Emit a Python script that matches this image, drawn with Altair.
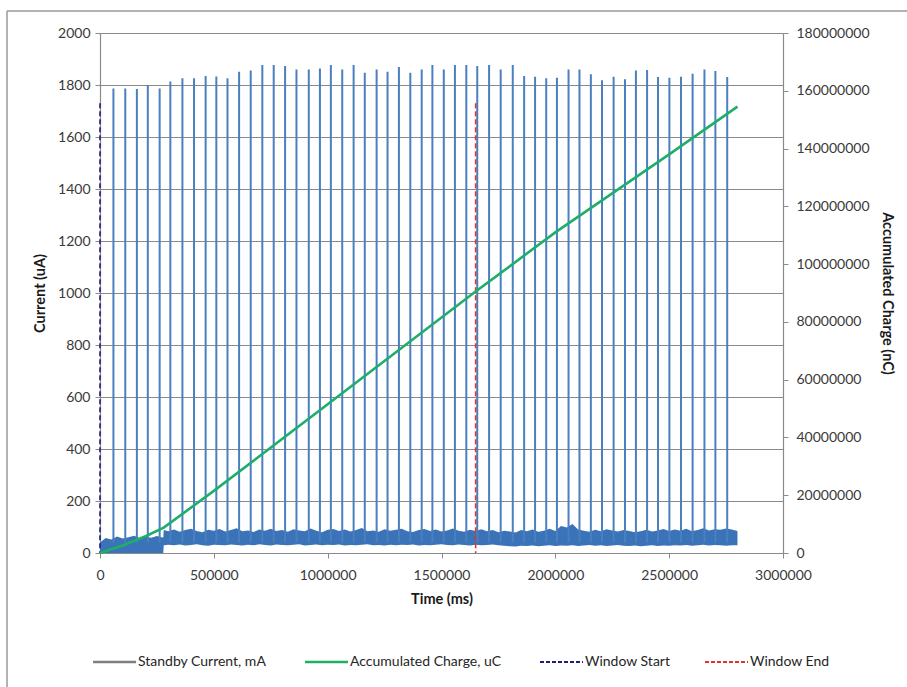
import altair as alt
import pandas as pd

# ---- current spikes: time (ms) and peak current (uA)
spike_t = [59000, 111000, 162000, 210000, 262000, 309000, 362000, 413000, 464000, 511000,
           560000, 611000, 662000, 713000, 763000, 813000, 863000, 917000, 966000, 1014000,
           1064000, 1114000, 1163000, 1215000, 1263000, 1313000, 1363000, 1413000, 1460000, 1510000,
           1559000, 1609000, 1657000, 1709000, 1760000, 1813000, 1863000, 1911000, 1960000, 2007000,
           2058000, 2106000, 2156000, 2205000, 2256000, 2306000, 2354000, 2403000, 2451000, 2501000,
           2552000, 2603000, 2655000, 2703000, 2755000]
spike_peak = [1787, 1787, 1785, 1800, 1787, 1813, 1826, 1826, 1835, 1833,
              1826, 1851, 1856, 1877, 1877, 1873, 1860, 1860, 1863, 1877,
              1860, 1877, 1847, 1860, 1851, 1869, 1847, 1860, 1877, 1860,
              1877, 1877, 1873, 1877, 1860, 1877, 1835, 1832, 1826, 1828,
              1860, 1860, 1841, 1818, 1832, 1822, 1856, 1858, 1831, 1828,
              1832, 1843, 1860, 1854, 1831]

# ---- standby current band between spikes: time (ms), low and high current (uA)
band_t = [0, 25000, 50000, 75000, 100000, 125000, 150000, 175000, 200000, 225000, 250000, 275000,
          278000, 280000,
          300000, 325000, 350000, 375000, 400000, 425000, 450000, 475000, 500000, 525000,
          550000, 575000, 600000, 625000, 650000, 675000, 700000, 725000, 750000, 775000,
          800000, 825000, 850000, 875000, 900000, 925000, 950000, 975000, 1000000, 1025000,
          1050000, 1075000, 1100000, 1125000, 1150000, 1175000, 1200000, 1225000, 1250000, 1275000,
          1300000, 1325000, 1350000, 1375000, 1400000, 1425000, 1450000, 1475000, 1500000, 1525000,
          1550000, 1575000, 1600000, 1625000, 1650000, 1675000, 1700000, 1725000, 1750000, 1775000,
          1800000, 1825000, 1850000, 1875000, 1900000, 1925000, 1950000, 1975000, 2000000, 2025000,
          2050000, 2075000, 2100000, 2125000, 2150000, 2175000, 2200000, 2225000, 2250000, 2275000,
          2300000, 2325000, 2350000, 2375000, 2400000, 2425000, 2450000, 2475000, 2500000, 2525000,
          2550000, 2575000, 2600000, 2625000, 2650000, 2675000, 2700000, 2725000, 2750000, 2775000,
          2800000]
band_hi = [40, 58, 52, 63, 56, 61, 66, 57, 63, 59, 65, 60,
           60, 88,
           84, 90, 82, 88, 93, 85, 80, 89, 86, 92,
           83, 88, 95, 84, 87, 81, 90, 86, 93, 85,
           88, 82, 91, 87, 84, 94, 86, 80, 89, 92,
           85, 90, 83, 88, 96, 84, 87, 82, 91, 86,
           89, 93, 84, 81, 88, 92, 85, 90, 83, 87,
           94, 86, 82, 89, 85, 91, 84, 88, 80, 86,
           83, 79, 88, 84, 90, 82, 86, 93, 85, 104,
           98, 112, 90, 86, 82, 89, 84, 91, 87, 83,
           88, 85, 80, 84, 89, 83, 87, 92, 85, 90,
           86, 93, 84, 88, 95, 87, 91, 89, 94, 90,
           85]
band_lo = [0, 0, 0, 0, 0, 0, 0, 0, 0, 0, 0, 0,
           0, 30,
           32, 30, 33, 29, 31, 34, 30, 28, 32, 31,
           30, 33, 31, 29, 32, 30, 34, 31, 29, 33,
           31, 30, 32, 34, 29, 31, 33, 30, 32, 31,
           33, 29, 31, 30, 32, 34, 30, 31, 29, 32,
           30, 32, 31, 33, 29, 31, 30, 32, 34, 31,
           30, 33, 31, 29, 32, 30, 31, 33, 30, 28,
           26, 25, 28, 27, 29, 26, 28, 30, 27, 29,
           28, 30, 27, 29, 31, 28, 30, 27, 29, 31,
           28, 27, 29, 26, 28, 30, 27, 29, 28, 30,
           29, 31, 28, 30, 32, 29, 31, 30, 28, 30,
           30]

# ---- accumulated charge (nC)
charge_t = [0, 100000, 200000, 280000, 500000, 1000000, 1650000, 2000000, 2500000, 2800000]
charge_nc = [0, 2600000, 5800000, 8800000, 21500000, 51500000, 90500000, 111000000, 138000000, 154500000]

# ---- measurement window markers: time (ms), top (uA)
window_name = ["Window Start", "Window End"]
window_t = [0, 1650000]
window_top = [1730, 1730]
window_color = ["#1f1f7a", "#e0332c"]

legend_labels = ["Standby Current, mA", "Accumulated Charge, uC", "Window Start", "Window End"]
legend_colors = ["#7f7f7f", "#1fae6a", "#1f1f7a", "#e0332c"]

BLUE = "#4a7fc0"
GRID = "#8a8a8a"
FONT = "Lato"

x_scale = alt.Scale(domain=[0, 3000000], nice=False, zero=False)
x_axis = alt.Axis(values=list(range(0, 3000001, 500000)), format="d", title="Time (ms)",
                  grid=False, labelFlush=False, labelOverlap=False, tickSize=5,
                  labelPadding=10, titlePadding=10)
y_scale = alt.Scale(domain=[0, 2000], nice=False)
y_axis = alt.Axis(values=list(range(0, 2001, 200)), format="d", title="Current (uA)",
                  grid=True, gridColor=GRID, tickSize=5, labelPadding=5, titlePadding=10)
y2_scale = alt.Scale(domain=[0, 180000000], nice=False)
y2_axis = alt.Axis(values=list(range(0, 180000001, 20000000)), format="d",
                   title="Accumulated Charge (nC)", orient="right", grid=False,
                   tickSize=5, labelPadding=8, titlePadding=10)

band_df = pd.DataFrame({"t": band_t, "lo": band_lo, "hi": band_hi})
spike_df = pd.DataFrame({"t": spike_t, "peak": spike_peak})
charge_df = pd.DataFrame({"t": charge_t, "q": charge_nc})
win_df = pd.DataFrame({"name": window_name, "t": window_t, "top": window_top})

band = alt.Chart(band_df).mark_area(color="#3b73b8", opacity=1).encode(
    x=alt.X("t:Q", scale=x_scale, axis=x_axis),
    y=alt.Y("lo:Q", scale=y_scale, axis=y_axis),
    y2="hi:Q",
)

spikes = alt.Chart(spike_df).mark_rule(color=BLUE, strokeWidth=2).encode(
    x=alt.X("t:Q", scale=x_scale, axis=x_axis),
    y=alt.Y("peak:Q", scale=y_scale, axis=y_axis),
    y2=alt.datum(40),
)

windows = alt.Chart(win_df).mark_rule(strokeWidth=1.6, strokeDash=[5, 3]).encode(
    x=alt.X("t:Q", scale=x_scale, axis=x_axis),
    y=alt.Y("top:Q", scale=y_scale, axis=y_axis),
    y2=alt.datum(0),
    color=alt.Color("name:N", scale=alt.Scale(domain=window_name, range=window_color), legend=None),
)

current = alt.layer(band, spikes, windows)

charge = alt.Chart(charge_df).mark_line(color="#1fae6a", strokeWidth=2.6).encode(
    x=alt.X("t:Q", scale=x_scale, axis=x_axis),
    y=alt.Y("q:Q", scale=y2_scale, axis=y2_axis),
)

main = alt.layer(current, charge).resolve_scale(y="independent")

# legend row below the plot (positions in pixels from the plot origin)
LEG_Y = 629
leg_line_x = [-7, 205, 440, 605]
leg_line_w = [43, 43, 43, 43]
leg_dash = [None, None, [4, 2], [4, 2]]
deco = []
for i, lab in enumerate(legend_labels):
    d = pd.DataFrame({"label": [lab]})
    kw = dict(color=legend_colors[i], strokeWidth=2.4 if leg_dash[i] is None else 2)
    if leg_dash[i] is not None:
        kw["strokeDash"] = leg_dash[i]
    deco.append(alt.Chart(d).mark_rule(**kw).encode(
        x=alt.value(leg_line_x[i]), x2=alt.value(leg_line_x[i] + leg_line_w[i]),
        y=alt.value(LEG_Y)))
    deco.append(alt.Chart(d).mark_text(align="left", baseline="middle", font=FONT,
                                       fontSize=14, color="#262626").encode(
        x=alt.value(leg_line_x[i] + leg_line_w[i] + 2), y=alt.value(LEG_Y), text="label:N"))

# chart-area frame (top and left edges)
frame_df = pd.DataFrame({"k": [0]})
deco.append(alt.Chart(frame_df).mark_rule(color="#9a9a9a", strokeWidth=1.5).encode(
    x=alt.value(-93), x2=alt.value(810), y=alt.value(-22)))
deco.append(alt.Chart(frame_df).mark_rule(color="#9a9a9a", strokeWidth=1.5).encode(
    x=alt.value(-93), y=alt.value(-22), y2=alt.value(660)))

chart = alt.layer(main, *deco).properties(
    width=683, height=520,
    padding={"left": 100, "top": 33, "right": 124, "bottom": 134},
    autosize=alt.AutoSizeParams(type="none"),
    background="white",
).configure_view(stroke=None).configure_axis(
    labelFont=FONT, labelFontSize=14, labelColor="#3a3a3a",
    titleFont=FONT, titleFontSize=14.5, titleFontWeight="bold", titleColor="#1a1a1a",
    domainColor=GRID, tickColor=GRID, domainWidth=1.2,
)

chart.save("out.html", embed_options={"renderer": "svg", "actions": False})
